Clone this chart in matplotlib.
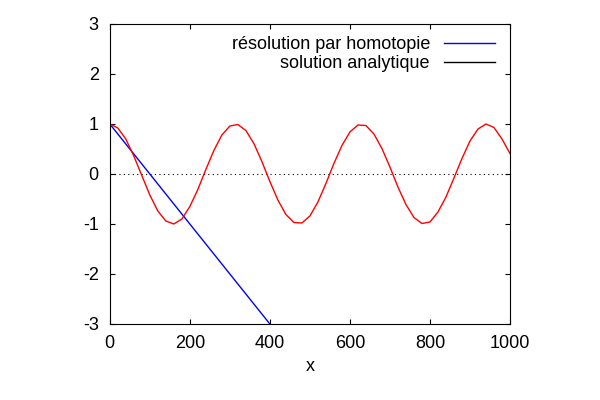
import matplotlib
matplotlib.use("Agg")
import matplotlib.pyplot as plt

plt.rcParams["font.family"] = ["Liberation Sans", "DejaVu Sans"]
plt.rcParams["axes.unicode_minus"] = False

x_analytic = list(range(0, 1001, 20))
y_analytic = [1.00, 0.92, 0.70, 0.36, -0.03, -0.42, -0.74, -0.94, -1.00, -0.90,
              -0.65, -0.31, 0.09, 0.47, 0.78, 0.96, 0.99, 0.87, 0.61, 0.25,
              -0.15, -0.52, -0.81, -0.97, -0.98, -0.84, -0.56, -0.19, 0.21, 0.57,
              0.84, 0.98, 0.97, 0.80, 0.51, 0.14, -0.26, -0.61, -0.87, -0.99,
              -0.96, -0.76, -0.46, -0.08, 0.31, 0.66, 0.90, 1.00, 0.93, 0.70, 0.41]
x_homotopy = [0, 400]
y_homotopy = [1.0, -3.0]
xticks = [0, 200, 400, 600, 800, 1000]
yticks = [-3, -2, -1, 0, 1, 2, 3]

fig = plt.figure(figsize=(6, 4), dpi=100)
ax = fig.add_axes([0.183, 0.19, 0.667, 0.75])
ax.axhline(0, color="black", linestyle=(0, (1, 3)), linewidth=0.8)
ax.plot(x_homotopy, y_homotopy, color="#0000ff", linewidth=1, label="résolution par homotopie")
ax.plot(x_analytic, y_analytic, color="#ff0000", linewidth=1, label="solution analytique")
ax.set_xlim(0, 1000)
ax.set_ylim(-3, 3)
ax.set_xticks(xticks)
ax.set_yticks(yticks)
ax.tick_params(direction="in", top=True, right=True, labelsize=13, pad=8)
ax.set_xlabel("x", fontsize=13)
leg = ax.legend(loc="upper right", frameon=False, markerfirst=False, fontsize=13,
                handlelength=2.8, borderaxespad=0.1, labelspacing=0.1,
                bbox_to_anchor=(0.985, 0.99))
leg.legend_handles[1].set_color("black")
fig.savefig("out.png", dpi=100)
